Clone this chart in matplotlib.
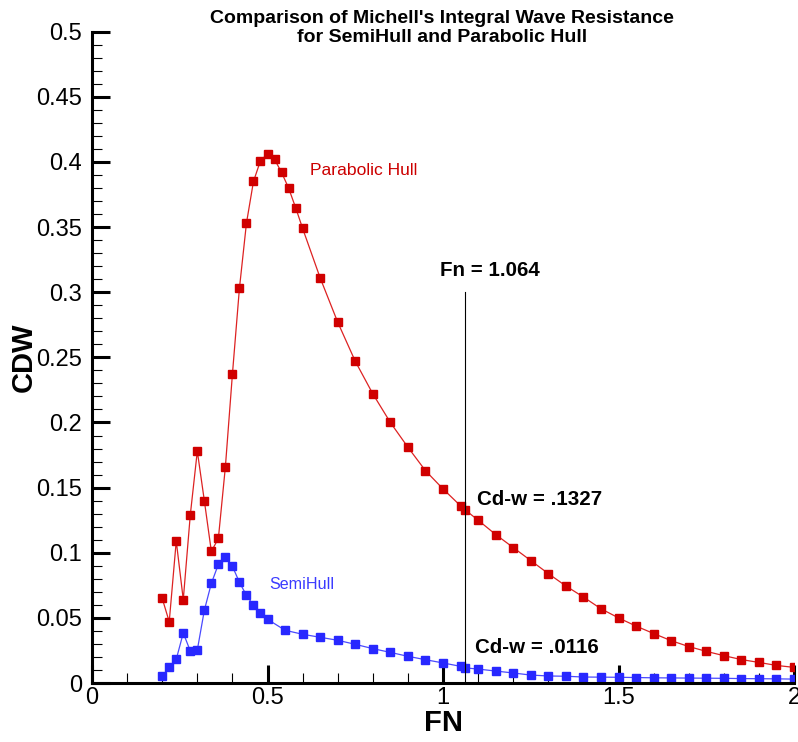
import numpy as np
import matplotlib
matplotlib.use("Agg")
import matplotlib.pyplot as plt
from matplotlib.ticker import MultipleLocator

plt.rcParams['font.family'] = ['Liberation Sans', 'DejaVu Sans']

# Froude numbers (same grid for both hulls)
fn = [0.20, 0.22, 0.24, 0.26, 0.28, 0.30, 0.32, 0.34, 0.36, 0.38,
      0.40, 0.42, 0.44, 0.46, 0.48, 0.50, 0.52, 0.54, 0.56, 0.58,
      0.60, 0.65, 0.70, 0.75, 0.80, 0.85, 0.90, 0.95, 1.00, 1.05,
      1.064, 1.10, 1.15, 1.20, 1.25, 1.30, 1.35, 1.40, 1.45, 1.50,
      1.55, 1.60, 1.65, 1.70, 1.75, 1.80, 1.85, 1.90, 1.95, 2.00]

cdw_parabolic = [0.065, 0.047, 0.109, 0.064, 0.129, 0.178, 0.140, 0.101, 0.111, 0.166,
                 0.237, 0.303, 0.353, 0.385, 0.401, 0.406, 0.402, 0.392, 0.380, 0.365,
                 0.349, 0.311, 0.277, 0.247, 0.222, 0.200, 0.181, 0.163, 0.149, 0.136,
                 0.1327, 0.125, 0.114, 0.104, 0.094, 0.084, 0.0745, 0.066, 0.057, 0.050,
                 0.0437, 0.038, 0.0325, 0.028, 0.0243, 0.021, 0.018, 0.0158, 0.0135, 0.012]

# SemiHull has fewer points between 0.5 and 0.6
fn_semi = [0.20, 0.22, 0.24, 0.26, 0.28, 0.30, 0.32, 0.34, 0.36, 0.38,
           0.40, 0.42, 0.44, 0.46, 0.48, 0.50, 0.55, 0.60, 0.65, 0.70,
           0.75, 0.80, 0.85, 0.90, 0.95, 1.00, 1.05, 1.064, 1.10, 1.15,
           1.20, 1.25, 1.30, 1.35, 1.40, 1.45, 1.50, 1.55, 1.60, 1.65,
           1.70, 1.75, 1.80, 1.85, 1.90, 1.95, 2.00]

cdw_semi = [0.0054, 0.0121, 0.0182, 0.0384, 0.0246, 0.0253, 0.0558, 0.0765, 0.0911, 0.0965,
            0.0896, 0.0773, 0.0673, 0.0597, 0.0535, 0.0489, 0.0405, 0.0374, 0.0351, 0.0328,
            0.0297, 0.0264, 0.0235, 0.0205, 0.0179, 0.0154, 0.0128, 0.0116, 0.0107, 0.0092,
            0.0077, 0.0061, 0.0054, 0.0052, 0.0046, 0.0045, 0.0044, 0.0042, 0.0040, 0.0039,
            0.0038, 0.0037, 0.0036, 0.0034, 0.0033, 0.0032, 0.0030]

fn_mark = 1.064
cd_mark_parabolic = ".1327"
cd_mark_semi = ".0116"

fig = plt.figure(figsize=(7.98, 7.42), dpi=100)
ax = fig.add_axes([0.1153, 0.0795, 0.8797, 0.8778])

ax.plot(fn, cdw_parabolic, color='#dd2222', lw=0.9, marker='s', ms=5.2,
        mfc='#d00000', mec='#d00000')
ax.plot(fn_semi, cdw_semi, color='#4a4aff', lw=0.9, marker='s', ms=5.2,
        mfc='#2828ff', mec='#2828ff')

ax.plot([fn_mark, fn_mark], [0, 0.3], color='black', lw=0.8)

ax.text(fn_mark + 0.0705, 0.3163, "Fn = 1.064", fontsize=14.8, fontweight='bold',
        ha='center', va='center')
ax.text(1.098, 0.1409, "Cd-w = " + cd_mark_parabolic, fontsize=14.8, fontweight='bold',
        ha='left', va='center')
ax.text(1.09, 0.0273, "Cd-w = " + cd_mark_semi, fontsize=14.8, fontweight='bold',
        ha='left', va='center')
ax.text(0.621, 0.3938, "Parabolic Hull", fontsize=12.6, color='#cc0000',
        ha='left', va='center')
ax.text(0.505, 0.0760, "SemiHull", fontsize=11.6, color='#3a3aff',
        ha='left', va='center')

ax.set_xlim(0, 2)
ax.set_ylim(0, 0.5)
ax.xaxis.set_major_locator(MultipleLocator(0.5))
ax.xaxis.set_minor_locator(MultipleLocator(0.1))
ax.yaxis.set_major_locator(MultipleLocator(0.05))
ax.yaxis.set_minor_locator(MultipleLocator(0.01))
ax.xaxis.set_major_formatter(matplotlib.ticker.FuncFormatter(lambda v, p: f"{v:g}"))
ax.yaxis.set_major_formatter(matplotlib.ticker.FuncFormatter(lambda v, p: f"{v:g}"))

for s in ['top', 'right']:
    ax.spines[s].set_visible(False)
for s in ['left', 'bottom']:
    ax.spines[s].set_linewidth(2.2)

ax.tick_params(which='major', direction='in', length=13, width=2.2, labelsize=17)
ax.tick_params(axis='y', which='major', pad=7)
ax.tick_params(axis='x', which='major', pad=3)
ax.tick_params(which='minor', direction='in', length=7, width=0.8)

ax.set_xlabel("FN", fontsize=21, fontweight='bold', labelpad=0)
ax.set_ylabel("CDW", fontsize=21, fontweight='bold')
ax.yaxis.set_label_coords(-0.077, 0.5)

fig.text(0.554, 0.962, "Comparison of Michell's Integral Wave Resistance\nfor SemiHull and Parabolic Hull",
         fontsize=14, fontweight='bold', ha='center', va='center', linespacing=1.2)

fig.savefig("out.png", dpi=100)
